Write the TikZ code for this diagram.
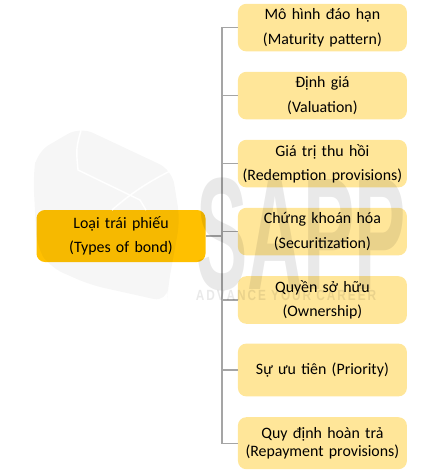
\documentclass[tikz,border=0pt]{standalone}
\usepackage{xcolor}
\usepackage{fontspec}
\setmainfont{Carlito}
\newfontfamily\logofont{Liberation Sans}
\definecolor{BOgold}{HTML}{FFC000}
\definecolor{BOpale}{HTML}{FFE699}
\definecolor{BOline}{HTML}{A5A5A5}
\usetikzlibrary{positioning}

\begin{document}
\begin{tikzpicture}[
  root/.style={rounded corners=6pt,fill=BOgold,text width=120pt,minimum width=4.225cm,
    minimum height=1.3cm,align=center,inner sep=0pt,font=\fontsize{11.3}{17.4}\selectfont},
  leaf/.style={rounded corners=6pt,fill=BOpale,text width=120pt,minimum width=4.225cm,
    minimum height=1.19cm,align=center,inner sep=0pt,font=\fontsize{11.3}{17.4}\selectfont},
  edge/.style={draw=BOline,line width=0.9pt},
  logomark/.style={text=black,text opacity=0.085,inner sep=0pt}]
\useasboundingbox (0,0) rectangle (11.075,-11.75);
\node[root] (types) at (3.025,-5.9) {Loại trái phiếu\\(Types of bond)};
\node[leaf] (maturity) at (8.06,-0.69) {Mô hình đáo hạn\\(Maturity pattern)};
\node[leaf] (valuation) at (8.06,-2.39) {Định giá\\(Valuation)};
\node[leaf] (redemption) at (8.06,-4.09) {Giá trị thu hồi\\(Redemption provisions)};
\node[leaf] (securitization) at (8.06,-5.79) {Chứng khoán hóa\\(Securitization)};
\node[leaf] (ownership) at (8.06,-7.5) {Quyền sở hữu\\(Ownership)};
\node[leaf,minimum height=1.32cm] (priority) at (8.06,-9.25) {Sự ưu tiên (Priority)};
\node[leaf,minimum height=1.3cm,font=\fontsize{11.3}{12.2}\selectfont] (repayment) at (8.06,-11.08) {Quy định hoàn trả\\(Repayment provisions)};
\coordinate (trunk) at (5.55,-5.9);
\draw[edge] (types) -- (trunk);
\foreach \leaf in {maturity,valuation,redemption,securitization,ownership,priority,repayment}
  \draw[edge] (trunk) |- (\leaf.west);
% faint logo on top of everything
\fill[black,opacity=0.035,rounded corners=10pt] (2.0,-3.17) -- (0.92,-3.8) -- (0.83,-4.4) -- (0.92,-6.18) -- (1.25,-6.68) -- (2.25,-7.12) -- (4.18,-7.55) -- (4.2,-7.17) -- (4.5,-5.5) -- (4.3,-4.25) -- cycle;
\draw[white,line width=1pt] (2.05,-3.17) .. controls (1.9,-3.7) .. (1.95,-4.25) -- (3.5,-5.0) -- (3.65,-5.25);
\draw[white,line width=1pt] (4.3,-4.25) .. controls (3.6,-4.6) and (3.2,-4.9) .. (2.8,-5.25);
\node[logomark,font=\logofont\bfseries\fontsize{83}{83}\selectfont,xscale=0.66,yscale=1.37] (logo) at (7.53,-5.85) {SAPP};
\node[logomark,font=\logofont\bfseries\fontsize{10.5}{10.5}\selectfont,xscale=0.8] (slogan) at (7.15,-7.38) {A\,D\,V\,A\,N\,C\,E\, Y\,O\,U\,R\, C\,A\,R\,E\,E\,R};
\end{tikzpicture}
\end{document}
